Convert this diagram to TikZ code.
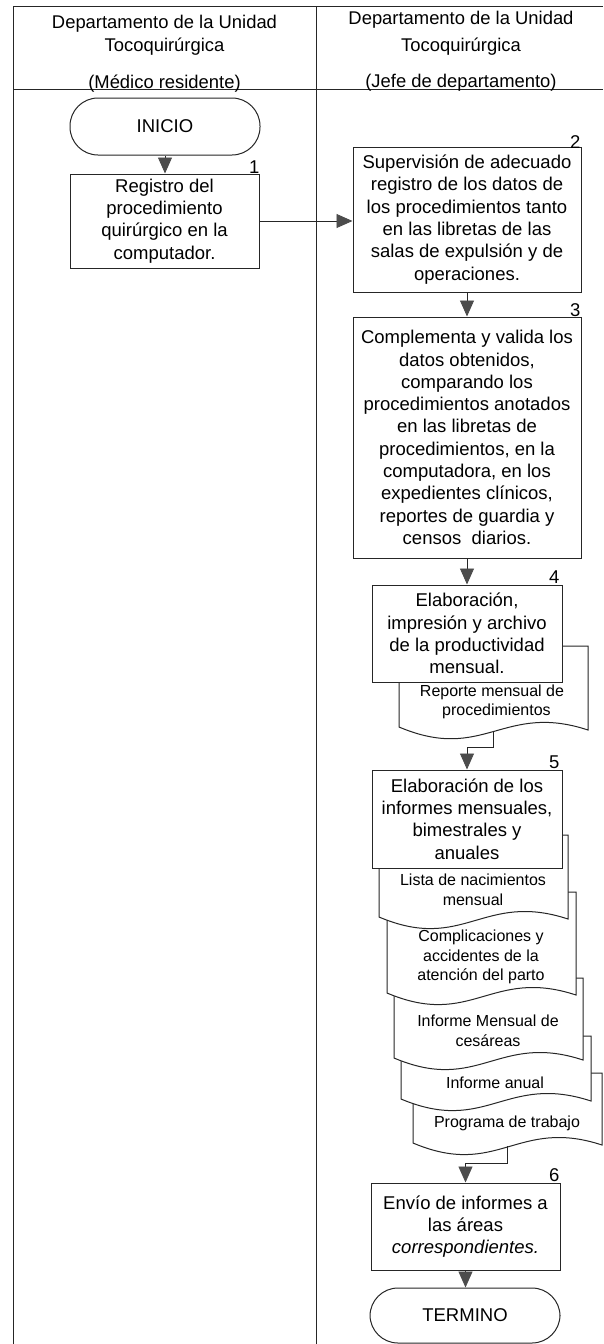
\documentclass[tikz,border=0pt]{standalone}
\usepackage{fontspec}
\setmainfont{Liberation Sans}
\usetikzlibrary{arrows.meta,calc}
\tikzset{
  frame/.style={line width=1pt, draw=black!85},
  box/.style={draw=black!85, line width=1pt, fill=white, align=center, inner sep=0pt,
    font=\fontsize{18.5}{22.3}\selectfont, text=black},
  term/.style={box, rounded corners=28pt},
  doctext/.style={align=center, inner sep=0pt, font=\fontsize{16}{19.6}\selectfont, text=black},
  docline/.style={draw=black!85, line width=1pt, fill=white},
  num/.style={inner sep=0pt, font=\fontsize{18.5}{22}\selectfont, anchor=base east, text=black},
  hdr/.style={inner sep=0pt, font=\fontsize{18.4}{23}\selectfont, text=black, anchor=base},
  flow/.style={draw=black!85, line width=0.9pt, -{Triangle[width=14pt,length=16pt,color=black!70,fill=black!70]}}
}
\newcommand{\docpath}[5]{%
  \path[docline] (#1,#2) -- (#3,#2) -- (#3,#5)
    .. controls ({#1+0.55*(#3-#1)},{#5-28}) and ({#1+0.45*(#3-#1)},{#4+36}) .. (#1,#4) -- cycle;}
\begin{document}
\begin{tikzpicture}[x=1pt,y=-1pt]
\useasboundingbox (0,0) rectangle (603,1344);
% table
\draw[frame] (13,1344) -- (13,6) -- (603,6);
\draw[frame] (316,6) -- (316,1344);
\draw[frame] (13,89) -- (603,89);
% headers
\node[hdr] (hl1) at (164.5,28.5) {Departamento de la Unidad};
\node[hdr] (hl2) at (164.5,51) {Tocoquirúrgica};
\node[hdr] (hl3) at (164.5,88) {(Médico residente)};
\node[hdr] (hr1) at (461,24.5) {Departamento de la Unidad};
\node[hdr] (hr2) at (461,51) {Tocoquirúrgica};
\node[hdr] (hr3) at (461,87) {(Jefe de departamento)};
% start
\node[term, minimum width=190pt, minimum height=57pt] (ini) at (165,126.5) {INICIO};
\node[box, minimum width=189pt, minimum height=94pt] (b1) at (164.5,221)
  {Registro del\\procedimiento\\quirúrgico en la\\computador.};
\node[box, minimum width=228pt, minimum height=145pt] (b2) at (467,219.5)
  {Supervisión de adecuado\\registro de los datos de\\los procedimientos tanto\\en las libretas de las\\salas de expulsión y de\\operaciones.};
\node[box, minimum width=228pt, minimum height=241pt] (b3) at (467,437.5)
  {Complementa y valida los\\datos obtenidos,\\comparando los\\procedimientos anotados\\en las libretas de\\procedimientos, en la\\computadora, en los\\expedientes clínicos,\\reportes de guardia y\\censos\ \ diarios.};
% document behind box 4
\docpath{399}{646}{588}{727}{730}
\node[doctext] (dR) at (492,702) {Reporte mensual de\\\ \ procedimientos};
\coordinate (rR) at (493,731);
\node[box, minimum width=190pt, minimum height=97pt] (b4) at (467,633.5)
  {Elaboración,\\impresión y archivo\\de la productividad\\mensual.};
% stacked documents behind box 5
\docpath{413}{1073}{602}{1143}{1145}
\node[doctext] (de) at (507,1123) {Programa de trabajo};
\coordinate (eR) at (507,1146);
\docpath{401}{1036}{591}{1099}{1101}
\node[doctext] (dd) at (495,1083) {Informe anual};
\docpath{394}{978}{583}{1058}{1060}
\node[doctext] (dc) at (488,1031) {Informe Mensual de\\cesáreas};
\docpath{387}{892}{576}{993}{995}
\node[doctext] (db) at (481,957) {Complicaciones y\\accidentes de la\\atención del parto};
\docpath{379}{835}{568}{917}{919}
\node[doctext] (da) at (473,889.5) {Lista de nacimientos\\mensual};
\node[box, minimum width=190pt, minimum height=98pt] (b5) at (467,819)
  {Elaboración de los\\informes mensuales,\\bimestrales y\\anuales};
\node[box, minimum width=189pt, minimum height=87pt] (b6) at (465.5,1226.5)
  {Envío de informes a\\las áreas\\\textit{correspondientes.}};
\node[term, minimum width=190pt, minimum height=55pt] (fin) at (465,1315.5) {TERMINO};
% numbers
\node[num] (n1) at (b1.north east) {1};
\node[num] (n2) at ($(b2.north east)+(-1,2)$) {2};
\node[num] (n3) at ($(b3.north east)+(-1,0)$) {3};
\node[num] (n4) at ($(b4.north east)+(-3,-1)$) {4};
\node[num] (n5) at ($(b5.north east)+(-3,-1)$) {5};
\node[num] (n6) at ($(b6.north east)+(-1,-1)$) {6};
% connectors
\draw[flow] (ini.south) -- (ini.south |- b1.north);
\draw[flow] (b1.east) -- (b1.east -| b2.west);
\draw[flow] (b2.south) -- (b3.north);
\draw[flow] (b3.south) -- (b4.north);
\draw[flow] (rR) -- ++(0,16) -| (b5.north);
\draw[flow] (eR) -- ++(0,17) -| (b6.north);
\draw[flow] (b6.south) -- (b6.south |- fin.north);
\end{tikzpicture}
\end{document}
